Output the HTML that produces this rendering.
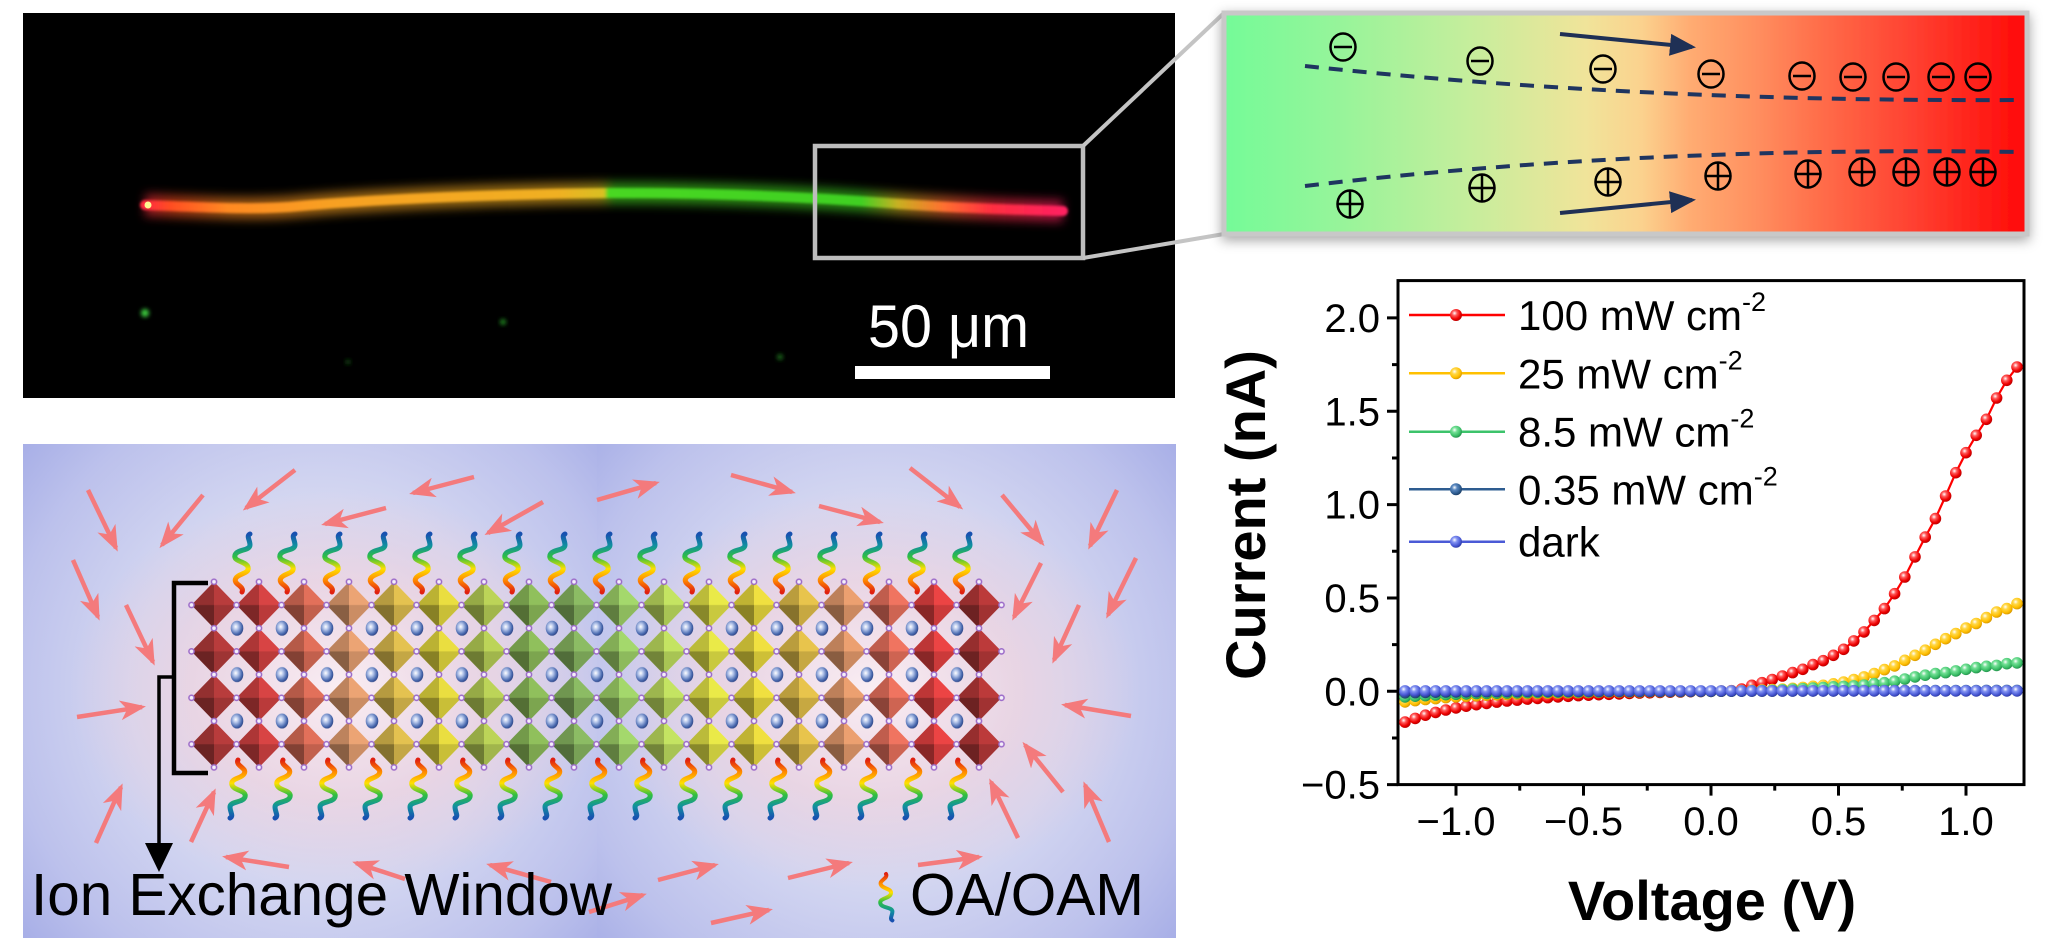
<!DOCTYPE html>
<html><head><meta charset="utf-8">
<style>
html,body{margin:0;padding:0;background:#fff;}
svg{display:block;}
text{font-family:"Liberation Sans",Arial,sans-serif;}
</style></head><body>
<svg width="2048" height="938" viewBox="0 0 2048 938" xmlns="http://www.w3.org/2000/svg">
<defs>
  <linearGradient id="fib" gradientUnits="userSpaceOnUse" x1="145" y1="0" x2="1063" y2="0">
    <stop offset="0" stop-color="#ff2a40"/>
    <stop offset="0.03" stop-color="#ff5020"/>
    <stop offset="0.09" stop-color="#ff8a20"/>
    <stop offset="0.2" stop-color="#f8a020"/>
    <stop offset="0.45" stop-color="#f0b020"/>
    <stop offset="0.5" stop-color="#d8c020"/>
    <stop offset="0.505" stop-color="#48d820"/>
    <stop offset="0.78" stop-color="#40d020"/>
    <stop offset="0.82" stop-color="#c8b020"/>
    <stop offset="0.87" stop-color="#ff7030"/>
    <stop offset="0.92" stop-color="#ff3040"/>
    <stop offset="1" stop-color="#ff2060"/>
  </linearGradient>
  <filter id="blur4" x="-10%" y="-300%" width="120%" height="700%"><feGaussianBlur stdDeviation="5"/></filter>
  <filter id="blur1" x="-10%" y="-300%" width="120%" height="700%"><feGaussianBlur stdDeviation="1.2"/></filter>
  <filter id="blur2" x="-50%" y="-50%" width="200%" height="200%"><feGaussianBlur stdDeviation="2"/></filter>
  <filter id="shadow" x="-5%" y="-15%" width="110%" height="135%"><feDropShadow dx="0" dy="4" stdDeviation="6" flood-color="#000" flood-opacity="0.35"/></filter>
  <linearGradient id="pg" gradientUnits="userSpaceOnUse" x1="1224" y1="0" x2="2027" y2="0">
    <stop offset="0" stop-color="#74fb98"/>
    <stop offset="0.15" stop-color="#98f49a"/>
    <stop offset="0.3" stop-color="#c4ee9c"/>
    <stop offset="0.45" stop-color="#f0e49a"/>
    <stop offset="0.52" stop-color="#fbd28e"/>
    <stop offset="0.58" stop-color="#ffac72"/>
    <stop offset="0.66" stop-color="#ff9060"/>
    <stop offset="0.75" stop-color="#ff6a48"/>
    <stop offset="0.86" stop-color="#ff4030"/>
    <stop offset="1" stop-color="#ff0808"/>
  </linearGradient>
  <g id="minus"><ellipse rx="12.5" ry="13.5" fill="none" stroke="#000" stroke-width="2.5"/><line x1="-9" y1="0" x2="9" y2="0" stroke="#000" stroke-width="2.5"/></g>
  <g id="plus"><ellipse rx="12.5" ry="13.5" fill="none" stroke="#000" stroke-width="2.5"/><line x1="-12.5" y1="0" x2="12.5" y2="0" stroke="#000" stroke-width="2.5"/><line x1="0" y1="-13.5" x2="0" y2="13.5" stroke="#000" stroke-width="2.5"/></g>
  <marker id="nh" markerUnits="userSpaceOnUse" markerWidth="26" markerHeight="22" refX="22" refY="11" orient="auto"><path d="M0,0 L26,11 L0,22 Z" fill="#1f3055"/></marker>
  <marker id="ah" markerUnits="userSpaceOnUse" markerWidth="26" markerHeight="22" refX="22" refY="11" orient="auto"><path d="M0,1 L26,11 L0,21 L7,11 Z" fill="#f47a7c"/></marker>

  <radialGradient id="gR" cx="0.38" cy="0.35" r="0.7"><stop offset="0" stop-color="#fff"/><stop offset="0.3" stop-color="#ff5a5a"/><stop offset="0.7" stop-color="#ee0000"/><stop offset="1" stop-color="#b00000"/></radialGradient>
  <radialGradient id="gY" cx="0.38" cy="0.35" r="0.7"><stop offset="0" stop-color="#fff"/><stop offset="0.3" stop-color="#ffd84a"/><stop offset="0.7" stop-color="#ffbf00"/><stop offset="1" stop-color="#d09000"/></radialGradient>
  <radialGradient id="gG" cx="0.38" cy="0.35" r="0.7"><stop offset="0" stop-color="#fff"/><stop offset="0.3" stop-color="#74e096"/><stop offset="0.7" stop-color="#3cc068"/><stop offset="1" stop-color="#208a48"/></radialGradient>
  <radialGradient id="gD" cx="0.38" cy="0.35" r="0.7"><stop offset="0" stop-color="#fff"/><stop offset="0.3" stop-color="#5a88c0"/><stop offset="0.7" stop-color="#2e5c90"/><stop offset="1" stop-color="#1a3a60"/></radialGradient>
  <radialGradient id="gB" cx="0.38" cy="0.35" r="0.7"><stop offset="0" stop-color="#fff"/><stop offset="0.3" stop-color="#8494f2"/><stop offset="0.7" stop-color="#4a5ad6"/><stop offset="1" stop-color="#2a36a0"/></radialGradient>
  <marker id="mR" markerUnits="userSpaceOnUse" markerWidth="14" markerHeight="14" refX="7" refY="7" overflow="visible"><circle cx="7" cy="7" r="5.8" fill="url(#gR)"/></marker>
  <marker id="mY" markerUnits="userSpaceOnUse" markerWidth="14" markerHeight="14" refX="7" refY="7" overflow="visible"><circle cx="7" cy="7" r="5.8" fill="url(#gY)"/></marker>
  <marker id="mG" markerUnits="userSpaceOnUse" markerWidth="14" markerHeight="14" refX="7" refY="7" overflow="visible"><circle cx="7" cy="7" r="5.8" fill="url(#gG)"/></marker>
  <marker id="mD" markerUnits="userSpaceOnUse" markerWidth="14" markerHeight="14" refX="7" refY="7" overflow="visible"><circle cx="7" cy="7" r="5.8" fill="url(#gD)"/></marker>
  <marker id="mB" markerUnits="userSpaceOnUse" markerWidth="14" markerHeight="14" refX="7" refY="7" overflow="visible"><circle cx="7" cy="7" r="5.8" fill="url(#gB)"/></marker>

  <radialGradient id="bgL" gradientUnits="userSpaceOnUse" cx="320" cy="690" r="420"><stop offset="0" stop-color="#e4e6f6"/><stop offset="0.45" stop-color="#d4d7f1"/><stop offset="0.75" stop-color="#bcc1ec"/><stop offset="1" stop-color="#9ea6e4"/></radialGradient>
  <radialGradient id="bgR" gradientUnits="userSpaceOnUse" cx="880" cy="690" r="420"><stop offset="0" stop-color="#e4e6f6"/><stop offset="0.45" stop-color="#d4d7f1"/><stop offset="0.75" stop-color="#bcc1ec"/><stop offset="1" stop-color="#9ea6e4"/></radialGradient>
  <radialGradient id="pink"><stop offset="0" stop-color="#fbeef3" stop-opacity="0.95"/><stop offset="0.55" stop-color="#efd2de" stop-opacity="0.7"/><stop offset="1" stop-color="#e8c8d8" stop-opacity="0"/></radialGradient>
  <radialGradient id="gS" cx="0.4" cy="0.4" r="0.65"><stop offset="0" stop-color="#fff"/><stop offset="0.3" stop-color="#b8c8ec"/><stop offset="0.75" stop-color="#4a6ab0"/><stop offset="1" stop-color="#2a4080"/></radialGradient>
  <pattern id="shade" patternUnits="userSpaceOnUse" x="191.5" y="581.8" width="45" height="46.4">
    <polygon points="22.5,23.2 0,23.2 22.5,0" fill="#000" fill-opacity="0.2"/>
    <polygon points="22.5,23.2 0,23.2 22.5,46.4" fill="#000" fill-opacity="0.42"/>
    <polygon points="22.5,23.2 45,23.2 22.5,46.4" fill="#000" fill-opacity="0.14"/>
  </pattern>
  <pattern id="hal" patternUnits="userSpaceOnUse" x="202.75" y="570.2" width="45" height="46.4">
    <circle cx="11.25" cy="11.6" r="2.6" fill="#f4eefa" stroke="#9a68c8" stroke-width="1.5"/>
    <circle cx="33.75" cy="34.8" r="2.6" fill="#f4eefa" stroke="#9a68c8" stroke-width="1.5"/>
  </pattern>
  <pattern id="sph" patternUnits="userSpaceOnUse" x="214.5" y="605" width="45" height="46.4">
    <ellipse cx="22.5" cy="23.2" rx="6.3" ry="7.5" fill="url(#gS)"/>
  </pattern>
  <path id="col" d="M0,581.8 L-22.5,605 L0,628.2 L-22.5,651.4 L0,674.6 L-22.5,697.8 L0,721 L-22.5,744.2 L0,767.4 L22.5,744.2 L0,721 L22.5,697.8 L0,674.6 L22.5,651.4 L0,628.2 L22.5,605 Z"/>
  <linearGradient id="ligG" gradientUnits="userSpaceOnUse" x1="0" y1="0" x2="0" y2="-58">
    <stop offset="0" stop-color="#e02010"/><stop offset="0.2" stop-color="#ff8800"/><stop offset="0.4" stop-color="#ffe000"/><stop offset="0.6" stop-color="#30c040"/><stop offset="0.8" stop-color="#1090a0"/><stop offset="1" stop-color="#1850b0"/>
  </linearGradient>
  <path id="lig" d="M0,0 C3,-6 -10,-8 -6,-14 C-3,-19 8,-18 6,-25 C4,-31 -9,-30 -7,-37 C-5,-43 8,-41 8,-47 C8,-52 4,-56 8,-58" fill="none" stroke="url(#ligG)" stroke-width="5" stroke-linecap="round"/>
</defs>

<rect width="2048" height="938" fill="#fff"/>

<!-- ===== Microscope panel ===== -->
<rect x="23" y="13" width="1152" height="385" fill="#000"/>
<path d="M145,205 C220,208 260,210 300,206 C380,199 500,194 612,193 C700,193 800,196 900,204 C960,208 1020,210 1063,211" fill="none" stroke="url(#fib)" stroke-width="22" opacity="0.6" filter="url(#blur4)"/>
<path d="M145,205 C220,208 260,210 300,206 C380,199 500,194 612,193 C700,193 800,196 900,204 C960,208 1020,210 1063,211" fill="none" stroke="url(#fib)" stroke-width="10" stroke-linecap="round" filter="url(#blur1)"/>
<circle cx="148" cy="205" r="3.5" fill="#fff890"/>
<circle cx="145" cy="313" r="4" fill="#3cd040" filter="url(#blur2)"/>
<circle cx="503" cy="322" r="3" fill="#208a20" filter="url(#blur2)"/>
<circle cx="348" cy="362" r="2.5" fill="#124a12" filter="url(#blur2)"/>
<circle cx="780" cy="357" r="3" fill="#1a6a1a" filter="url(#blur2)"/>
<rect x="815" y="146" width="268" height="112" fill="none" stroke="#bdbdbd" stroke-width="4.5"/>
<line x1="1083" y1="146" x2="1224" y2="13" stroke="#c4c4c4" stroke-width="4"/>
<line x1="1083" y1="258" x2="1224" y2="234" stroke="#c4c4c4" stroke-width="4"/>
<text x="868" y="347" font-size="60" fill="#fff" textLength="161" lengthAdjust="spacingAndGlyphs">50 μm</text>
<rect x="855" y="366" width="195" height="13" fill="#fff"/>

<!-- ===== Top-right gradient panel ===== -->
<rect x="1224" y="13" width="803" height="221" fill="url(#pg)" stroke="#c8c8c8" stroke-width="5" filter="url(#shadow)"/>
<path d="M1305,66 Q1640,102 2019,100" fill="none" stroke="#1f3560" stroke-width="4" stroke-dasharray="14 10"/>
<path d="M1305,186 Q1640,146 2019,152" fill="none" stroke="#1f3560" stroke-width="4" stroke-dasharray="14 10"/>
<line x1="1560" y1="34" x2="1692" y2="47" stroke="#1f3055" stroke-width="4" marker-end="url(#nh)"/>
<line x1="1560" y1="213" x2="1692" y2="200" stroke="#1f3055" stroke-width="4" marker-end="url(#nh)"/>
<use href="#minus" x="1343" y="47"/><use href="#minus" x="1480" y="61"/><use href="#minus" x="1603" y="69"/><use href="#minus" x="1711" y="74"/><use href="#minus" x="1802" y="76"/><use href="#minus" x="1853" y="77"/><use href="#minus" x="1896" y="77"/><use href="#minus" x="1941" y="77"/><use href="#minus" x="1978" y="77"/>
<use href="#plus" x="1350" y="204"/><use href="#plus" x="1482" y="188"/><use href="#plus" x="1608" y="182"/><use href="#plus" x="1718" y="176"/><use href="#plus" x="1808" y="174"/><use href="#plus" x="1862" y="172"/><use href="#plus" x="1906" y="172"/><use href="#plus" x="1947" y="172"/><use href="#plus" x="1983" y="172"/>

<!-- ===== Bottom-left lattice panel ===== -->
<rect x="23" y="444" width="574" height="494" fill="url(#bgL)"/>
<rect x="597" y="444" width="579" height="494" fill="url(#bgR)"/>
<ellipse cx="340" cy="690" rx="270" ry="200" fill="url(#pink)"/>
<ellipse cx="870" cy="690" rx="270" ry="200" fill="url(#pink)"/>

<use href="#col" x="214" fill="#b83c3c"/>
<use href="#col" x="259" fill="#d84444"/>
<use href="#col" x="304" fill="#e2705a"/>
<use href="#col" x="349" fill="#eca474"/>
<use href="#col" x="394" fill="#e4c250"/>
<use href="#col" x="439" fill="#eade40"/>
<use href="#col" x="484" fill="#bcd458"/>
<use href="#col" x="529" fill="#90c05c"/>
<use href="#col" x="574" fill="#8cbc64"/>
<use href="#col" x="619" fill="#a4d86c"/>
<use href="#col" x="664" fill="#c4e462"/>
<use href="#col" x="709" fill="#eaea48"/>
<use href="#col" x="754" fill="#f0e040"/>
<use href="#col" x="799" fill="#e8c44c"/>
<use href="#col" x="844" fill="#eca070"/>
<use href="#col" x="889" fill="#f07460"/>
<use href="#col" x="934" fill="#ec4444"/>
<use href="#col" x="979" fill="#bc3a3a"/>
<rect x="191.5" y="581.8" width="810" height="185.6" fill="url(#shade)"/>
<rect x="214.5" y="605" width="765" height="139.2" fill="url(#sph)"/>
<rect x="185" y="575" width="825" height="200" fill="url(#hal)"/>

<!-- ligands top -->
<g>
<use href="#lig" x="242" y="592"/><use href="#lig" x="287" y="592"/><use href="#lig" x="332" y="592"/><use href="#lig" x="377" y="592"/><use href="#lig" x="422" y="592"/><use href="#lig" x="467" y="592"/><use href="#lig" x="512" y="592"/><use href="#lig" x="557" y="592"/><use href="#lig" x="602" y="592"/><use href="#lig" x="647" y="592"/><use href="#lig" x="692" y="592"/><use href="#lig" x="737" y="592"/><use href="#lig" x="782" y="592"/><use href="#lig" x="827" y="592"/><use href="#lig" x="872" y="592"/><use href="#lig" x="917" y="592"/><use href="#lig" x="962" y="592"/>
</g>
<!-- ligands bottom -->
<g>
<use href="#lig" transform="translate(238,760) scale(-1,-1)"/><use href="#lig" transform="translate(283,760) scale(-1,-1)"/><use href="#lig" transform="translate(328,760) scale(-1,-1)"/><use href="#lig" transform="translate(373,760) scale(-1,-1)"/><use href="#lig" transform="translate(418,760) scale(-1,-1)"/><use href="#lig" transform="translate(463,760) scale(-1,-1)"/><use href="#lig" transform="translate(508,760) scale(-1,-1)"/><use href="#lig" transform="translate(553,760) scale(-1,-1)"/><use href="#lig" transform="translate(598,760) scale(-1,-1)"/><use href="#lig" transform="translate(643,760) scale(-1,-1)"/><use href="#lig" transform="translate(688,760) scale(-1,-1)"/><use href="#lig" transform="translate(733,760) scale(-1,-1)"/><use href="#lig" transform="translate(778,760) scale(-1,-1)"/><use href="#lig" transform="translate(823,760) scale(-1,-1)"/><use href="#lig" transform="translate(868,760) scale(-1,-1)"/><use href="#lig" transform="translate(913,760) scale(-1,-1)"/><use href="#lig" transform="translate(958,760) scale(-1,-1)"/>
</g>

<!-- red arrows -->
<g stroke="#f47a7c" stroke-width="4.5" marker-end="url(#ah)" fill="none">
<line x1="295" y1="470" x2="246" y2="508"/>
<line x1="474" y1="477" x2="413" y2="493"/>
<line x1="386" y1="508" x2="325" y2="524"/>
<line x1="203" y1="495" x2="162" y2="545"/>
<line x1="88" y1="490" x2="116" y2="548"/>
<line x1="543" y1="502" x2="488" y2="533"/>
<line x1="597" y1="500" x2="656" y2="483"/>
<line x1="731" y1="475" x2="792" y2="492"/>
<line x1="819" y1="506" x2="880" y2="522"/>
<line x1="910" y1="468" x2="960" y2="507"/>
<line x1="1002" y1="495" x2="1042" y2="543"/>
<line x1="1117" y1="490" x2="1090" y2="546"/>
<line x1="73" y1="560" x2="98" y2="617"/>
<line x1="126" y1="605" x2="153" y2="662"/>
<line x1="77" y1="717" x2="142" y2="707"/>
<line x1="1041" y1="563" x2="1014" y2="617"/>
<line x1="1079" y1="605" x2="1054" y2="660"/>
<line x1="1136" y1="558" x2="1108" y2="615"/>
<line x1="1131" y1="716" x2="1065" y2="705"/>
<line x1="96" y1="843" x2="121" y2="787"/>
<line x1="191" y1="842" x2="214" y2="792"/>
<line x1="1063" y1="792" x2="1025" y2="745"/>
<line x1="1018" y1="838" x2="991" y2="782"/>
<line x1="1109" y1="842" x2="1085" y2="785"/>
<line x1="289" y1="867" x2="226" y2="857"/>
<line x1="405" y1="879" x2="356" y2="863"/>
<line x1="551" y1="882" x2="490" y2="865"/>
<line x1="658" y1="880" x2="715" y2="865"/>
<line x1="788" y1="878" x2="849" y2="863"/>
<line x1="918" y1="865" x2="979" y2="857"/>
<line x1="589" y1="912" x2="643" y2="895"/>
<line x1="711" y1="923" x2="769" y2="910"/>
</g>

<!-- bracket and arrow -->
<path d="M208,583 L174,583 L174,773 L208,773" fill="none" stroke="#000" stroke-width="4.5"/>
<path d="M174,677 L159,677 L159,846" fill="none" stroke="#000" stroke-width="3.5"/>
<polygon points="145,843 173,843 159,872" fill="#000"/>
<text x="31" y="915" font-size="59" fill="#000" textLength="581" lengthAdjust="spacingAndGlyphs">Ion Exchange Window</text>
<use href="#lig" transform="translate(886,874) scale(0.8,-0.8)"/>
<text x="910" y="915" font-size="59" fill="#000" textLength="234" lengthAdjust="spacingAndGlyphs">OA/OAM</text>

<!-- ===== Chart ===== -->
<g stroke="#000" stroke-width="3" fill="none">
<rect x="1398" y="280.6" width="626" height="504"/>
<path d="M1398,784.6 h-11 M1398,691.3 h-11 M1398,597.95 h-11 M1398,504.6 h-11 M1398,411.25 h-11 M1398,317.9 h-11 M1398,738 h-6 M1398,644.6 h-6 M1398,551.3 h-6 M1398,458 h-6 M1398,364.6 h-6"/>
<path d="M1456,784.6 v11 M1583.5,784.6 v11 M1711,784.6 v11 M1838.5,784.6 v11 M1966,784.6 v11 M1519.75,784.6 v6 M1647.25,784.6 v6 M1774.75,784.6 v6 M1902.25,784.6 v6"/>
</g>
<g font-size="40" fill="#000" text-anchor="end">
<text x="1380" y="798.6">−0.5</text>
<text x="1380" y="705.3">0.0</text>
<text x="1380" y="612">0.5</text>
<text x="1380" y="518.6">1.0</text>
<text x="1380" y="425.3">1.5</text>
<text x="1380" y="331.9">2.0</text>
</g>
<g font-size="40" fill="#000" text-anchor="middle">
<text x="1456" y="835">−1.0</text>
<text x="1583.5" y="835">−0.5</text>
<text x="1711" y="835">0.0</text>
<text x="1838.5" y="835">0.5</text>
<text x="1966" y="835">1.0</text>
</g>
<text x="1712" y="920" font-size="56" font-weight="bold" text-anchor="middle" fill="#000">Voltage (V)</text>
<text transform="translate(1265,515) rotate(-90)" font-size="56" font-weight="bold" text-anchor="middle" fill="#000">Current (nA)</text>

<!-- series -->
<polyline fill="none" stroke="#ff0000" stroke-width="2.2" marker-start="url(#mR)" marker-mid="url(#mR)" marker-end="url(#mR)" points="1405.0,722.1 1415.2,718.4 1425.4,715.2 1435.6,712.4 1445.8,710.0 1456.0,707.9 1466.2,706.2 1476.4,704.7 1486.6,703.4 1496.8,702.1 1507.0,701.0 1517.2,700.1 1527.4,699.1 1537.6,698.4 1547.8,697.6 1558.0,696.9 1568.2,696.3 1578.4,695.6 1588.6,695.2 1598.8,694.7 1609.0,694.3 1619.2,693.9 1629.4,693.4 1639.6,693.0 1649.8,692.8 1660.0,692.4 1670.2,692.2 1680.4,692.0 1690.6,691.7 1700.8,691.5 1711.0,691.3 1721.2,691.1 1731.4,690.7 1741.6,689.1 1751.8,685.3 1762.0,682.7 1772.2,679.5 1782.4,676.0 1792.6,672.6 1802.8,669.3 1813.0,664.6 1823.2,660.7 1833.4,655.3 1843.6,649.3 1853.8,640.9 1864.0,631.9 1874.2,620.4 1884.4,608.6 1894.6,593.7 1904.8,577.0 1915.0,556.9 1925.2,537.1 1935.4,518.6 1945.6,496.0 1955.8,472.7 1966.0,452.7 1976.2,435.3 1986.4,419.3 1996.6,398.0 2006.8,380.3 2017.0,367.0"/>
<polyline fill="none" stroke="#ffc000" stroke-width="2.2" marker-start="url(#mY)" marker-mid="url(#mY)" marker-end="url(#mY)" points="1405.0,701.9 1415.2,700.6 1425.4,699.5 1435.6,698.6 1445.8,697.6 1456.0,696.9 1466.2,696.3 1476.4,695.8 1486.6,695.2 1496.8,694.8 1507.0,694.5 1517.2,694.1 1527.4,693.7 1537.6,693.4 1547.8,693.2 1558.0,693.0 1568.2,692.8 1578.4,692.6 1588.6,692.4 1598.8,692.2 1609.0,692.0 1619.2,692.0 1629.4,691.9 1639.6,691.9 1649.8,691.7 1660.0,691.7 1670.2,691.5 1680.4,691.5 1690.6,691.3 1700.8,691.3 1711.0,691.3 1721.2,691.1 1731.4,690.9 1741.6,690.7 1751.8,690.4 1762.0,690.0 1772.2,689.6 1782.4,689.1 1792.6,688.3 1802.8,687.4 1813.0,686.3 1823.2,685.3 1833.4,683.8 1843.6,682.0 1853.8,679.5 1864.0,676.9 1874.2,673.6 1884.4,669.6 1894.6,665.9 1904.8,660.3 1915.0,655.3 1925.2,650.2 1935.4,644.3 1945.6,638.7 1955.8,633.6 1966.0,628.0 1976.2,623.5 1986.4,617.6 1996.6,612.0 2006.8,608.6 2017.0,603.6"/>
<polyline fill="none" stroke="#3cc36b" stroke-width="2.2" marker-start="url(#mG)" marker-mid="url(#mG)" marker-end="url(#mG)" points="1405.0,696.9 1415.2,696.2 1425.4,695.6 1435.6,695.0 1445.8,694.7 1456.0,694.3 1466.2,693.9 1476.4,693.5 1486.6,693.4 1496.8,693.2 1507.0,693.0 1517.2,692.8 1527.4,692.6 1537.6,692.4 1547.8,692.2 1558.0,692.2 1568.2,692.0 1578.4,692.0 1588.6,691.9 1598.8,691.9 1609.0,691.7 1619.2,691.7 1629.4,691.6 1639.6,691.6 1649.8,691.5 1660.0,691.5 1670.2,691.4 1680.4,691.4 1690.6,691.3 1700.8,691.3 1711.0,691.3 1721.2,691.2 1731.4,691.1 1741.6,691.0 1751.8,690.8 1762.0,690.6 1772.2,690.3 1782.4,689.8 1792.6,689.2 1802.8,688.7 1813.0,688.1 1823.2,687.6 1833.4,686.8 1843.6,686.4 1853.8,685.9 1864.0,685.0 1874.2,683.6 1884.4,682.7 1894.6,681.2 1904.8,679.0 1915.0,676.9 1925.2,675.2 1935.4,673.6 1945.6,672.6 1955.8,670.9 1966.0,669.3 1976.2,667.6 1986.4,666.3 1996.6,665.4 2006.8,663.7 2017.0,662.9"/>
<polyline fill="none" stroke="#2e5c90" stroke-width="2.2" marker-start="url(#mD)" marker-mid="url(#mD)" marker-end="url(#mD)" points="1405.0,692.8 1415.2,692.6 1425.4,692.4 1435.6,692.2 1445.8,692.0 1456.0,691.9 1466.2,691.8 1476.4,691.7 1486.6,691.6 1496.8,691.5 1507.0,691.4 1517.2,691.4 1527.4,691.3 1537.6,691.3 1547.8,691.3 1558.0,691.3 1568.2,691.3 1578.4,691.3 1588.6,691.3 1598.8,691.3 1609.0,691.3 1619.2,691.3 1629.4,691.3 1639.6,691.3 1649.8,691.3 1660.0,691.3 1670.2,691.3 1680.4,691.3 1690.6,691.3 1700.8,691.3 1711.0,691.3 1721.2,691.2 1731.4,691.2 1741.6,691.2 1751.8,691.1 1762.0,691.1 1772.2,691.1 1782.4,691.0 1792.6,691.0 1802.8,691.0 1813.0,690.9 1823.2,690.9 1833.4,690.9 1843.6,690.8 1853.8,690.8 1864.0,690.8 1874.2,690.7 1884.4,690.7 1894.6,690.7 1904.8,690.6 1915.0,690.6 1925.2,690.6 1935.4,690.6 1945.6,690.5 1955.8,690.5 1966.0,690.5 1976.2,690.5 1986.4,690.4 1996.6,690.4 2006.8,690.4 2017.0,690.4"/>
<polyline fill="none" stroke="#4a5ad6" stroke-width="2.2" marker-start="url(#mB)" marker-mid="url(#mB)" marker-end="url(#mB)" points="1405.0,690.9 1415.2,690.9 1425.4,690.9 1435.6,690.9 1445.8,690.9 1456.0,690.9 1466.2,690.9 1476.4,690.9 1486.6,690.9 1496.8,690.9 1507.0,690.9 1517.2,690.9 1527.4,690.9 1537.6,690.9 1547.8,690.9 1558.0,690.9 1568.2,690.9 1578.4,690.9 1588.6,690.9 1598.8,690.9 1609.0,690.9 1619.2,690.9 1629.4,690.9 1639.6,690.9 1649.8,690.9 1660.0,690.9 1670.2,690.9 1680.4,690.9 1690.6,690.9 1700.8,690.9 1711.0,690.9 1721.2,690.9 1731.4,690.9 1741.6,690.9 1751.8,690.9 1762.0,690.9 1772.2,690.9 1782.4,690.9 1792.6,690.9 1802.8,690.9 1813.0,690.9 1823.2,690.9 1833.4,690.9 1843.6,690.9 1853.8,690.9 1864.0,690.9 1874.2,690.9 1884.4,690.9 1894.6,690.9 1904.8,690.9 1915.0,690.9 1925.2,690.9 1935.4,690.9 1945.6,690.9 1955.8,690.9 1966.0,690.9 1976.2,690.9 1986.4,690.9 1996.6,690.9 2006.8,690.9 2017.0,690.9"/>

<!-- legend -->
<g stroke-width="2.5" fill="none">
<line x1="1409" y1="315" x2="1505" y2="315" stroke="#ff0000"/>
<line x1="1409" y1="373.3" x2="1505" y2="373.3" stroke="#ffc000"/>
<line x1="1409" y1="431.7" x2="1505" y2="431.7" stroke="#3cc36b"/>
<line x1="1409" y1="489.3" x2="1505" y2="489.3" stroke="#2e5c90"/>
<line x1="1409" y1="541.7" x2="1505" y2="541.7" stroke="#4a5ad6"/>
</g>
<circle cx="1456" cy="315" r="6" fill="url(#gR)"/>
<circle cx="1456" cy="373.3" r="6" fill="url(#gY)"/>
<circle cx="1456" cy="431.7" r="6" fill="url(#gG)"/>
<circle cx="1456" cy="489.3" r="6" fill="url(#gD)"/>
<circle cx="1456" cy="541.7" r="6" fill="url(#gB)"/>
<g font-size="42" fill="#000">
<text x="1518" y="330">100 mW cm<tspan font-size="27" dy="-19">-2</tspan></text>
<text x="1518" y="388.3">25 mW cm<tspan font-size="27" dy="-19">-2</tspan></text>
<text x="1518" y="446.7">8.5 mW cm<tspan font-size="27" dy="-19">-2</tspan></text>
<text x="1518" y="504.3">0.35 mW cm<tspan font-size="27" dy="-19">-2</tspan></text>
<text x="1518" y="556.7">dark</text>
</g>
</svg>
</body></html>
